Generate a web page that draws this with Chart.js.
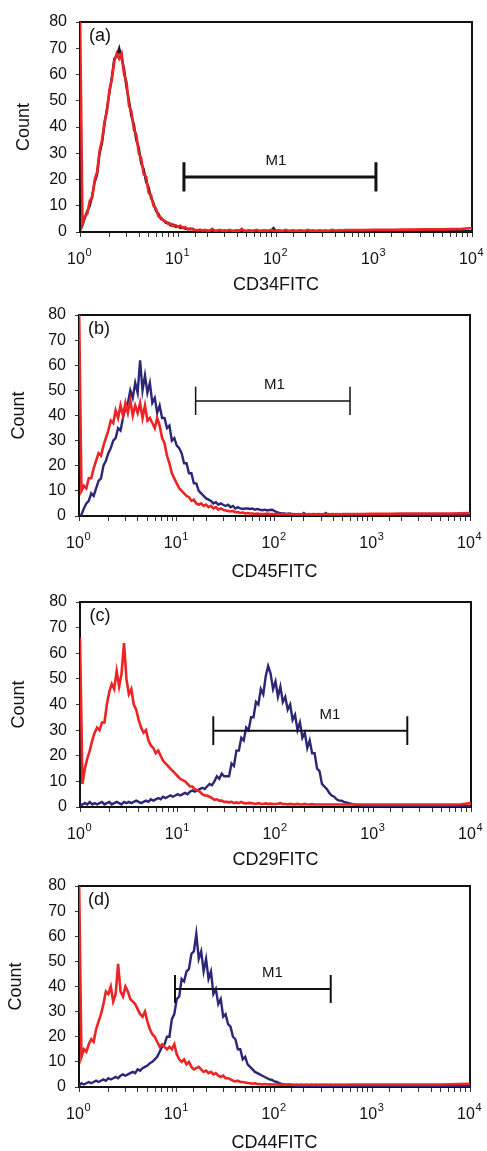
<!DOCTYPE html>
<html>
<head>
<meta charset="utf-8">
<script src="https://cdn.jsdelivr.net/npm/chart.js@4.4.0/dist/chart.umd.min.js"></script>
<style>
    html, body { margin: 0; padding: 0; background: #fff; overflow: hidden; }
    #page { position: relative; width: 487px; height: 1151px; overflow: hidden; }
    #page canvas { position: absolute; left: 0; }
</style>
</head>
<body>
<div id="page"></div>
<script>
// channel positions (log10 of fluorescence)
var channelLog = [
    0, 0.025, 0.05, 0.075, 0.1, 0.125, 0.15, 0.175, 0.2, 0.225,
    0.25, 0.275, 0.3, 0.325, 0.35, 0.375, 0.4, 0.425, 0.45, 0.475,
    0.5, 0.525, 0.55, 0.575, 0.6, 0.625, 0.65, 0.675, 0.7, 0.725,
    0.75, 0.775, 0.8, 0.825, 0.85, 0.875, 0.9, 0.925, 0.95, 0.975,
    1, 1.025, 1.05, 1.075, 1.1, 1.125, 1.15, 1.175, 1.2, 1.225,
    1.25, 1.275, 1.3, 1.325, 1.35, 1.375, 1.4, 1.425, 1.45, 1.475,
    1.5, 1.525, 1.55, 1.575, 1.6, 1.625, 1.65, 1.675, 1.7, 1.725,
    1.75, 1.775, 1.8, 1.825, 1.85, 1.875, 1.9, 1.925, 1.95, 1.975,
    2, 2.025, 2.05, 2.075, 2.1, 2.125, 2.15, 2.175, 2.2, 2.225,
    2.25, 2.275, 2.3, 2.325, 2.35, 2.375, 2.4, 2.425, 2.45, 2.475,
    2.5, 2.525, 2.55, 2.575, 2.6, 2.625, 2.65, 2.675, 2.7,
    2.8, 2.9, 3, 3.1, 3.2, 3.3, 3.4, 3.5, 3.6, 3.7, 3.8, 3.9, 4
];

// (a) CD34
var redA = [
    85, 3, 6, 7, 12, 13, 20, 23, 31, 35,
    42, 46, 54, 58, 65, 68, 66, 68, 60, 57,
    48, 46, 39, 37, 30, 28, 22, 21, 15, 14,
    10, 9, 6, 5.5, 4.5, 4, 3, 3.2, 2.2, 2.6,
    2, 2.4, 1.5, 1.8, 1, 1.4, 1, 0.8, 0.6, 0.9,
    0.5, 0.8, 0.5, 0.6, 1.2, 0.5, 0.5, 0.8, 0.5, 0.6,
    0.5, 0.8, 0.5, 0.5, 0.6, 0.5, 1.2, 0.5, 0.5, 0.6,
    0.5, 0.5, 0.8, 0.5, 0.5, 0.6, 0.5, 0.5, 0.8, 0.5,
    0.5, 0.6, 0.5, 0.5, 0.8, 0.5, 0.5, 0.6, 0.5, 0.5,
    0.6, 0.5, 0.5, 0.8, 0.5, 0.6, 0.5, 0.5, 0.6, 0.5,
    0.6, 0.5, 0.6, 0.8, 0.6, 0.6, 0.7, 0.6, 0.7,
    0.7, 0.7, 0.8, 0.8, 0.8, 0.9, 0.9, 1, 1, 1, 1.1, 1.2, 1.5
];
var darkA = [
    1, 2.5, 5.5, 8, 10, 14, 19, 22, 30, 34,
    41, 47, 53, 59, 66, 67, 70, 66, 62, 55,
    50, 44, 41, 35, 32, 26, 24, 19, 17, 13,
    11, 8, 7, 5, 4.5, 3.5, 3.5, 2.5, 2.8, 2,
    2, 1.5, 1.8, 1.2, 1.2, 1, 1.2, 0.6, 0.8, 0.5,
    0.5, 0.3, 0.5, 0.4, 0.6, 0.3, 0.5, 0.4, 0.3, 0.5,
    0.3, 0.5, 0.4, 0.3, 0.6, 0.3, 0.4, 0.5, 0.3, 0.4,
    0.3, 0.5, 0.4, 0.3, 0.4, 0.3, 0.5, 0.3, 0.4, 1.5,
    0.4, 0.3, 0.4, 0.3, 0.5, 0.3, 0.4, 0.3, 0.3, 0.4,
    0.3, 0.4, 0.3, 0.3, 0.4, 0.3, 0.3, 0.4, 0.3, 0.3,
    0.3, 0.3, 0.3, 0.3, 0.3, 0.3, 0.3, 0.3, 0.3,
    0.3, 0.3, 0.3, 0.3, 0.3, 0.3, 0.3, 0.3, 0.3, 0.3, 0.3, 0.3, 0.3
];

// (b) CD45
var redB = [
    85, 10, 12, 11, 15, 15, 19, 22, 25, 24,
    28, 31, 34, 38, 37, 42, 39, 44, 40, 45,
    41, 46, 40, 44, 41, 45, 39, 44, 38, 39,
    37, 35, 39, 36, 31, 29, 24, 21, 17, 15,
    13, 11, 10, 9, 8, 7.5, 6, 6.5, 5, 4.5,
    5, 4, 4.5, 3.5, 4, 3, 3.5, 2.5, 3, 2.5,
    2.2, 2, 1.8, 2, 1.5, 1.6, 1.2, 1.4, 1, 1.2,
    1, 1, 0.8, 1, 0.8, 0.8, 0.8, 1, 0.8, 0.8,
    0.8, 0.7, 0.8, 0.7, 0.8, 0.7, 0.8, 0.7, 0.8, 0.7,
    0.8, 0.7, 0.8, 0.7, 0.8, 0.7, 0.8, 0.7, 0.8, 0.7,
    0.8, 0.7, 0.8, 0.7, 0.8, 0.7, 0.8, 0.7, 0.8,
    0.8, 0.8, 0.9, 0.9, 0.9, 1, 1, 1, 1, 1, 1, 1.1, 1.2
];
var darkB = [
    0, 0.5, 3, 5, 6, 9, 8, 11, 14, 15,
    20, 22, 25, 27, 30, 31, 35, 34, 39, 43,
    45, 50, 47, 53, 49, 62, 50, 56, 49, 53,
    45, 47, 41, 44, 39, 39, 35, 36, 30, 31,
    28, 27, 25, 21, 21, 17, 17, 13, 13, 10,
    9, 8, 7, 6.5, 6, 5, 5.5, 4.5, 5, 4.5,
    4, 4.5, 3.5, 4, 3, 3.5, 3, 2.8, 3, 3,
    2.8, 3, 2.5, 2.8, 2.5, 2.3, 2.5, 2.2, 2.4, 2.5,
    2, 1.5, 1.2, 1, 1, 0.8, 1, 0.8, 0.6, 0.5,
    0.5, 0.5, 1.2, 0.5, 0.4, 0.5, 0.4, 0.4, 0.5, 0.4,
    0.4, 1.2, 0.4, 0.4, 0.3, 0.4, 0.3, 0.3, 0.3,
    0.3, 0.3, 0.3, 0.3, 0.3, 0.3, 0.3, 0.3, 0.3, 0.3, 0.3, 0.3, 0.3
];

// (c) CD29
var redC = [
    66, 9, 15, 19, 22, 26, 29, 31, 30, 33,
    33, 40, 45, 48, 46, 53, 47, 52, 64, 50,
    44, 46, 40, 38, 34, 31, 29, 30, 26, 24,
    23, 21, 22, 20, 18, 17, 16, 15, 14, 13,
    12, 11, 10.5, 10, 9, 8, 8, 7, 6.5, 6,
    5, 4.5, 4.5, 4, 3.5, 2.8, 3, 2.5, 2.5, 2,
    2, 1.8, 2, 1.5, 1.8, 1.5, 2, 1.5, 1.4, 1.6,
    1.5, 1.4, 1.2, 1.5, 1.3, 1.2, 1.4, 1.2, 1.3, 1.2,
    1.2, 1.3, 1.5, 1.2, 1.2, 1, 1.2, 1.1, 1, 1.2,
    1, 1, 1.2, 1, 1, 1.1, 1, 1, 1, 1,
    1, 1, 1, 1, 1, 1, 1, 1, 1,
    1, 1, 1, 1, 1, 1, 1, 1, 1, 1, 1, 1.1, 1.5
];
var darkC = [
    0.5, 1, 1.5, 1, 2, 1, 1.5, 1, 1.5, 2,
    1, 1.5, 2, 1, 1.5, 2, 1.5, 1, 2, 1.5,
    2, 1.5, 2, 2.5, 2, 1.5, 2, 2.5, 2, 3,
    2.5, 3, 3.5, 3, 4, 3.5, 4, 4.5, 4, 4.5,
    5, 4.5, 5, 5.5, 5, 6, 6.5, 6, 6.5, 7,
    7.5, 7, 8, 9, 8.5, 10, 12, 11, 13, 12,
    12, 12, 17, 16, 22, 22, 27, 26, 31, 30,
    35, 35, 41, 40, 46, 44, 51, 55, 52, 46,
    49, 43, 47, 41, 43, 38, 40, 34, 36, 30,
    33, 27, 29, 23, 26, 21, 21, 15, 14, 9,
    8, 7, 5.5, 4.5, 4, 3, 2.5, 2.5, 2,
    1, 0.5, 0.3, 0.3, 0.3, 0.3, 0.3, 0.3, 0.3, 0.3, 0.3, 0.3, 0.3
];

// (d) CD44
var redD = [
    85, 12, 15, 14, 17, 19, 18, 23, 26, 29,
    33, 38, 37, 40, 34, 37, 49, 38, 36, 40,
    38, 35, 34, 33, 31, 29, 28, 30, 26, 23,
    21, 20, 18, 16, 17, 16, 15, 16, 15, 17,
    13, 11, 10, 11, 9, 10, 8, 7, 7.5, 8,
    7, 6, 6.5, 5.5, 6, 5, 5.5, 4.5, 4, 4.5,
    3.5, 3.5, 3, 2.5, 2.2, 2.5, 2, 2, 1.8, 1.6,
    1.5, 1.3, 1.5, 1.2, 1.2, 1, 1.2, 1, 1.1, 1,
    1, 1, 0.9, 1, 0.9, 1, 0.9, 1, 0.9, 1,
    0.9, 1, 0.9, 1, 0.9, 1, 0.9, 1, 0.9, 1,
    0.9, 1, 0.9, 1, 0.9, 1, 0.9, 1, 0.9,
    1, 1, 1, 1, 1, 1, 1, 1, 1, 1, 1.1, 1.2, 1.3
];
var darkD = [
    0.5, 1.5, 1, 1.5, 2, 1.5, 2, 2.5, 2, 2.5,
    3, 2.5, 3.5, 3, 3.5, 4, 3.5, 4.5, 5, 4.5,
    5, 5.5, 6, 5.5, 7, 6.5, 7.5, 8, 8.5, 9.5,
    10, 11, 12, 14, 16, 17, 20, 20, 27, 29,
    35, 36, 43, 42, 46, 47, 53, 54, 61, 51,
    54, 46, 51, 43, 46, 37, 39, 33, 35, 28,
    29, 25, 24, 20, 19, 15, 15, 11, 12, 9,
    8, 7, 6, 5.5, 5, 4.5, 4, 3.5, 3, 2.8,
    2.2, 2, 1.5, 1.2, 1, 0.8, 1, 0.8, 0.6, 0.5,
    0.5, 0.4, 0.5, 0.4, 0.8, 0.4, 0.4, 0.5, 0.4, 0.4,
    0.4, 0.3, 0.4, 0.3, 0.3, 0.3, 0.3, 0.3, 0.3,
    0.3, 0.3, 0.3, 0.3, 0.3, 0.3, 0.3, 0.3, 0.3, 0.3, 0.3, 0.3, 0.3
];

var panelLetters = ['(a)', '(b)', '(c)', '(d)'];
var markerNames = ['CD34FITC', 'CD45FITC', 'CD29FITC', 'CD44FITC'];
var redSeries = [redA, redB, redC, redD];
var darkSeries = [darkA, darkB, darkC, darkD];

// M1 gate: start, end (fluorescence), height (count), label position (fluorescence)
var m1Start = [11.5, 15.6, 23.1, 9.6];
var m1End = [1047, 592, 2230, 376];
var m1Count = [21, 45.8, 29.8, 39];
var m1LabelAt = [100, 100, 360, 95];

// x tick labels: base and exponent for each decade
var xTickBase = '10';
var xTickExponents = ['0', '1', '2', '3', '4'];
var yTickStep = 10;

// page layout of each panel (pixels)
var layouts = [
    { top: 22, bottom: 232, left: 80, right: 472, countPad: 13, titleOff: 53, darkColor: '#1c1c30', gateWidth: 3 },
    { top: 315, bottom: 516, left: 79, right: 470, countPad: 8, titleOff: 56, darkColor: '#2b2776', gateWidth: 1.5 },
    { top: 602, bottom: 807, left: 80, right: 471, countPad: 8, titleOff: 53, darkColor: '#2b2776', gateWidth: 2 },
    { top: 886, bottom: 1087, left: 79, right: 470, countPad: 5, titleOff: 56, darkColor: '#2b2776', gateWidth: 2 }
];

var RED = '#ec2426';
var INK = '#111';
var CAP = 5.6;
var FONT = '"Liberation Sans", Arial, sans-serif';
var TICK_PAD = 13;
var LABEL_SHIFT = -4;

Chart.defaults.font.family = FONT;
Chart.defaults.color = INK;

function toPoints(values) {
    var pts = [];
    var n = Math.min(values.length, channelLog.length);
    for (var i = 0; i < n; i++) {
        pts.push({ x: Math.pow(10, channelLog[i]), y: values[i] });
    }
    return pts;
}

function gatePoints(i) {
    var s = m1Start[i], e = m1End[i], c = m1Count[i];
    return [
        { x: s, y: c - CAP }, { x: s, y: c + CAP }, { x: s, y: null },
        { x: s, y: c }, { x: e, y: c }, { x: e, y: null },
        { x: e, y: c - CAP }, { x: e, y: c + CAP }
    ];
}

function decadeIndex(value) {
    var e = Math.round(Math.log10(value));
    if (Math.abs(value - Math.pow(10, e)) > 1e-6) return -1;
    return e;
}

function decadeLabel(value) {
    return decadeIndex(value) >= 0 ? xTickBase : '';
}

var panelPlugin = {
    id: 'panelDecor',
    beforeDatasetsDraw: function (chart) {
        var a = chart.chartArea, ctx = chart.ctx;
        ctx.save();
        ctx.strokeStyle = INK;
        ctx.lineWidth = 2;
        ctx.strokeRect(a.left, a.top, a.right - a.left, a.bottom - a.top);
        ctx.restore();
    },
    afterDraw: function (chart, args, opts) {
        var a = chart.chartArea, ctx = chart.ctx;
        var xs = chart.scales.x, ys = chart.scales.y;
        ctx.save();
        ctx.fillStyle = INK;
        ctx.textAlign = 'center';
        ctx.textBaseline = 'middle';
        ctx.font = '15px ' + FONT;
        ctx.fillText('M1', xs.getPixelForValue(m1LabelAt[opts.index]), ys.getPixelForValue(m1Count[opts.index]) - 16);
        ctx.font = '18px ' + FONT;
        ctx.fillText(panelLetters[opts.index], a.left + 20, a.top + 14);

        // exponents of the decade labels
        ctx.font = '16px ' + FONT;
        var baseW = ctx.measureText(xTickBase).width;
        var labelY = xs.top + 5 + TICK_PAD + 9.6;
        ctx.font = '11px ' + FONT;
        ctx.textAlign = 'left';
        xs.ticks.forEach(function (t) {
            var e = decadeIndex(t.value);
            if (e < 0) return;
            var px = xs.getPixelForValue(t.value) + LABEL_SHIFT;
            ctx.fillText(xTickExponents[e], px + baseW / 2 + 0.5, labelY - 6.5);
        });
        ctx.restore();
    }
};

function createPanel(i) {
    var L = layouts[i];
    var canvas = document.createElement('canvas');
    canvas.id = 'panel' + i;
    var top = L.top - 22;
    var height = L.bottom - L.top + 22 + 70;
    canvas.width = 487;
    canvas.height = height;
    canvas.style.top = top + 'px';
    document.getElementById('page').appendChild(canvas);

    new Chart(canvas.getContext('2d'), {
        type: 'line',
        data: {
            datasets: [
                { label: 'M1', data: gatePoints(i), borderColor: INK, borderWidth: L.gateWidth, pointRadius: 0, spanGaps: false },
                { label: 'isotype', data: toPoints(redSeries[i]), borderColor: RED, borderWidth: 2.6, pointRadius: 0, tension: 0 },
                { label: markerNames[i], data: toPoints(darkSeries[i]), borderColor: L.darkColor, borderWidth: 2.4, pointRadius: 0, tension: 0 }
            ]
        },
        options: {
            responsive: false,
            animation: false,
            events: [],
            layout: { padding: { top: 22, right: 487 - L.right, left: 0, bottom: 0 } },
            plugins: {
                legend: { display: false },
                tooltip: { enabled: false },
                panelDecor: { index: i }
            },
            scales: {
                x: {
                    type: 'logarithmic',
                    min: 1,
                    max: 10000,
                    afterFit: function (s) {
                        s.height = 70;
                        s.paddingLeft = 0;
                        s.paddingRight = 0;
                    },
                    border: { display: true, color: INK, width: 1.5 },
                    grid: { drawOnChartArea: false, tickLength: 5, color: '#333' },
                    ticks: { autoSkip: false, maxRotation: 0, padding: TICK_PAD, labelOffset: LABEL_SHIFT, color: INK, font: { size: 16 }, callback: decadeLabel },
                    title: { display: true, text: markerNames[i], color: INK, font: { size: 18 }, padding: { top: 0, bottom: 59 - L.titleOff } }
                },
                y: {
                    min: 0,
                    max: 80,
                    afterFit: function (s) {
                        s.width = L.left;
                        s.paddingTop = 0;
                        s.paddingBottom = 0;
                    },
                    border: { display: true, color: INK, width: 1.5 },
                    grid: { drawOnChartArea: false, tickLength: 4, color: '#333' },
                    ticks: { stepSize: yTickStep, padding: 9, color: INK, font: { size: 16 } },
                    title: { display: true, text: 'Count', color: INK, font: { size: 18 }, padding: { top: L.countPad, bottom: 0 } }
                }
            }
        },
        plugins: [panelPlugin]
    });
}

for (var p = 0; p < layouts.length; p++) {
    createPanel(p);
}
</script>
</body>
</html>
